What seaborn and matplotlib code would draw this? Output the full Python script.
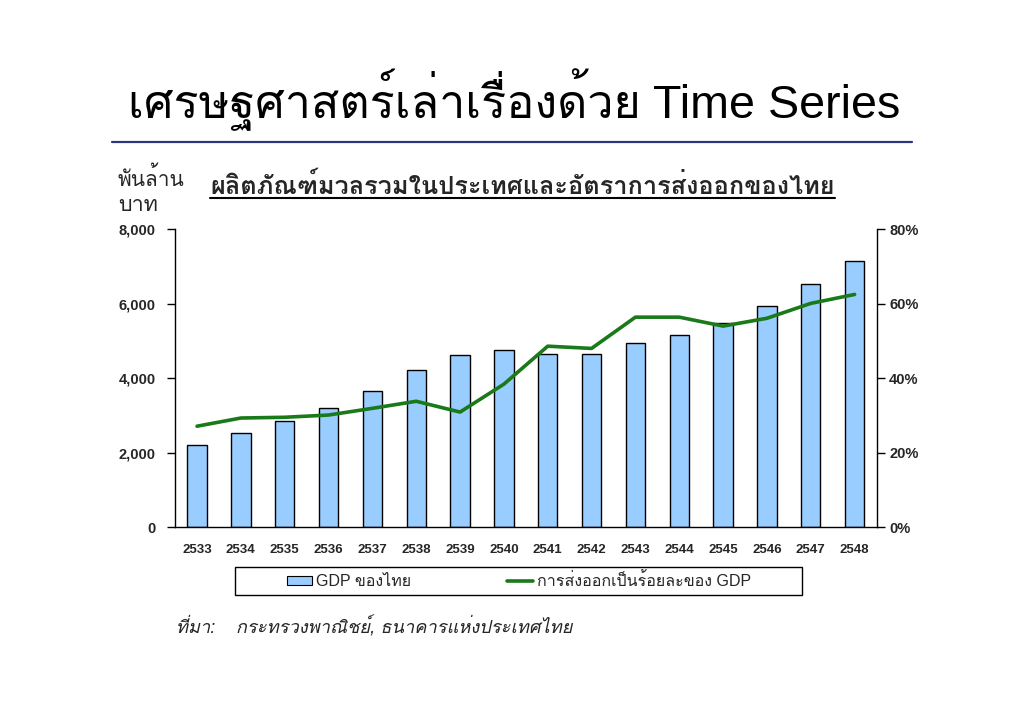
import numpy as np
import pandas as pd
import matplotlib
matplotlib.use('Agg')
import matplotlib.pyplot as plt
import seaborn as sns
from matplotlib.lines import Line2D
from matplotlib.patches import Patch, Rectangle
from matplotlib.ticker import FuncFormatter, FixedLocator


years = ['2533', '2534', '2535', '2536', '2537', '2538', '2539', '2540',
         '2541', '2542', '2543', '2544', '2545', '2546', '2547', '2548']
gdp = [2200, 2520, 2850, 3190, 3650, 4210, 4620, 4750,
       4640, 4640, 4940, 5150, 5480, 5930, 6520, 7140]
export_pct = [27.1, 29.3, 29.5, 30.1, 31.9, 33.8, 30.9, 38.4,
              48.6, 48.0, 56.4, 56.4, 54.0, 56.1, 60.1, 62.5]

main_title = 'เศรษฐศาสตร์เล่าเรื่องด้วย Time Series'
chart_title = 'ผลิตภัณฑ์มวลรวมในประเทศและอัตราการส่งออกของไทย'
unit_lines = ['พันล้าน', 'บาท']
bar_label = 'GDP ของไทย'
line_label = 'การส่งออกเป็นร้อยละของ GDP'
source_text = 'ที่มา:    กระทรวงพาณิชย์, ธนาคารแห่งประเทศไทย'

BAR_COLOR = '#99ccff'
LINE_COLOR = '#1a7a1a'
LATIN = ['Liberation Sans', 'DejaVu Sans']
FONTS = ['Liberation Sans', 'Loma', 'Sarabun', 'DejaVu Sans']

sns.set_style('white')
plt.rcParams['font.family'] = FONTS

df = pd.DataFrame({'year': years, 'gdp': gdp, 'pct': export_pct})

W, H = 1030, 728
fig = plt.figure(figsize=(W / 100, H / 100), dpi=100)
ax = fig.add_axes([0.170, 0.276, 0.681, 0.409])


def fx(px):
  return px / W


def fy(py):
  # pixel row from the top -> figure fraction
  return 1 - py / H


def fit_width(txt, px):
  # shrink or grow a text so that it spans about px pixels
  fig.canvas.draw()
  w = txt.get_window_extent().width
  txt.set_fontsize(txt.get_fontsize() * px / w)


sns.barplot(data=df, x='year', y='gdp', color=BAR_COLOR, width=0.44,
            edgecolor='black', linewidth=1.0, saturation=1, ax=ax)
ax.set_ylim(0, 8000)
ax.set_xlim(-0.5, len(years) - 0.5)
ax.set_yticks([0, 2000, 4000, 6000, 8000])
ax.yaxis.set_major_formatter(FuncFormatter(lambda v, p: f'{int(v):,}'))
ax.set_xlabel('')
ax.set_ylabel('')
ax.tick_params(axis='x', which='major', length=0, pad=12)
ax.xaxis.set_minor_locator(FixedLocator(np.arange(-0.5, len(years), 1.0)))
ax.tick_params(axis='x', which='minor', length=5, width=1, direction='out', color='black')
ax.tick_params(axis='y', length=6, width=1, direction='out', color='black', pad=8)
for lbl in ax.get_xticklabels():
  lbl.set_fontfamily(LATIN)
  lbl.set_fontweight('bold')
  lbl.set_fontsize(9.5)
for lbl in ax.get_yticklabels():
  lbl.set_fontfamily(LATIN)
  lbl.set_fontweight('bold')
  lbl.set_fontsize(10.5)
for s in ['left', 'bottom']:
  ax.spines[s].set_color('black')
  ax.spines[s].set_linewidth(1)
ax.spines['top'].set_visible(False)
ax.spines['right'].set_visible(False)

ax2 = ax.twinx()
sns.lineplot(x=np.arange(len(years)), y=df['pct'], color=LINE_COLOR, linewidth=2.6, ax=ax2)
ax2.set_ylim(0, 80)
ax2.set_yticks([0, 20, 40, 60, 80])
ax2.yaxis.set_major_formatter(FuncFormatter(lambda v, p: f'{int(v)}%'))
ax2.set_ylabel('')
ax2.tick_params(axis='y', length=6, width=1, direction='out', color='black', pad=3)
for lbl in ax2.get_yticklabels():
  lbl.set_fontfamily(LATIN)
  lbl.set_fontweight('bold')
  lbl.set_fontsize(10.5)
ax2.spines['right'].set_color('black')
ax2.spines['right'].set_linewidth(1)
ax2.spines['top'].set_visible(False)
ax2.spines['left'].set_visible(False)
ax2.spines['bottom'].set_visible(False)

# slide title
t_main = fig.text(fx(128), fy(118), main_title, fontsize=34, color='black',
                  ha='left', va='baseline')
fit_width(t_main, 772)
fig.add_artist(Line2D([fx(112), fx(912)], [fy(142), fy(142)], color='#2e3580', linewidth=1.6))

# unit label, two lines
for i, line in enumerate(unit_lines):
  t_unit = fig.text(fx(118), fy(186 + 25 * i), line, fontsize=15.5, ha='left', va='baseline')
  if i == 0:
    fit_width(t_unit, 67)

# chart title with underline
t_chart = fig.text(fx(210), fy(194), chart_title, fontsize=15, fontweight='bold',
                   ha='left', va='baseline')
fit_width(t_chart, 625)
fig.canvas.draw()
bb = t_chart.get_window_extent().transformed(fig.transFigure.inverted())
fig.add_artist(Line2D([bb.x0, bb.x1], [fy(198.5), fy(198.5)], color='black', linewidth=1.5))

# legend in a drawn box
fig.add_artist(Rectangle((fx(235), fy(595)), fx(802) - fx(235), fy(567) - fy(595),
                         facecolor='white', edgecolor='black', linewidth=1.0,
                         transform=fig.transFigure))
handles = [Patch(facecolor=BAR_COLOR, edgecolor='black', linewidth=0.8, label=bar_label),
           Line2D([], [], color=LINE_COLOR, linewidth=2.6, label=line_label)]
leg = fig.legend(handles=handles, ncol=2, loc='center',
                 bbox_to_anchor=(fx(519), fy(581)), frameon=False, fontsize=11.5,
                 columnspacing=6.0, handlelength=1.6, handleheight=0.5,
                 handletextpad=0.25, borderpad=0.2)

t_src = fig.text(fx(176), fy(633), source_text, fontsize=13, style='italic',
                 ha='left', va='baseline')
fit_width(t_src, 397)

fig.savefig('out.png', dpi=100)
